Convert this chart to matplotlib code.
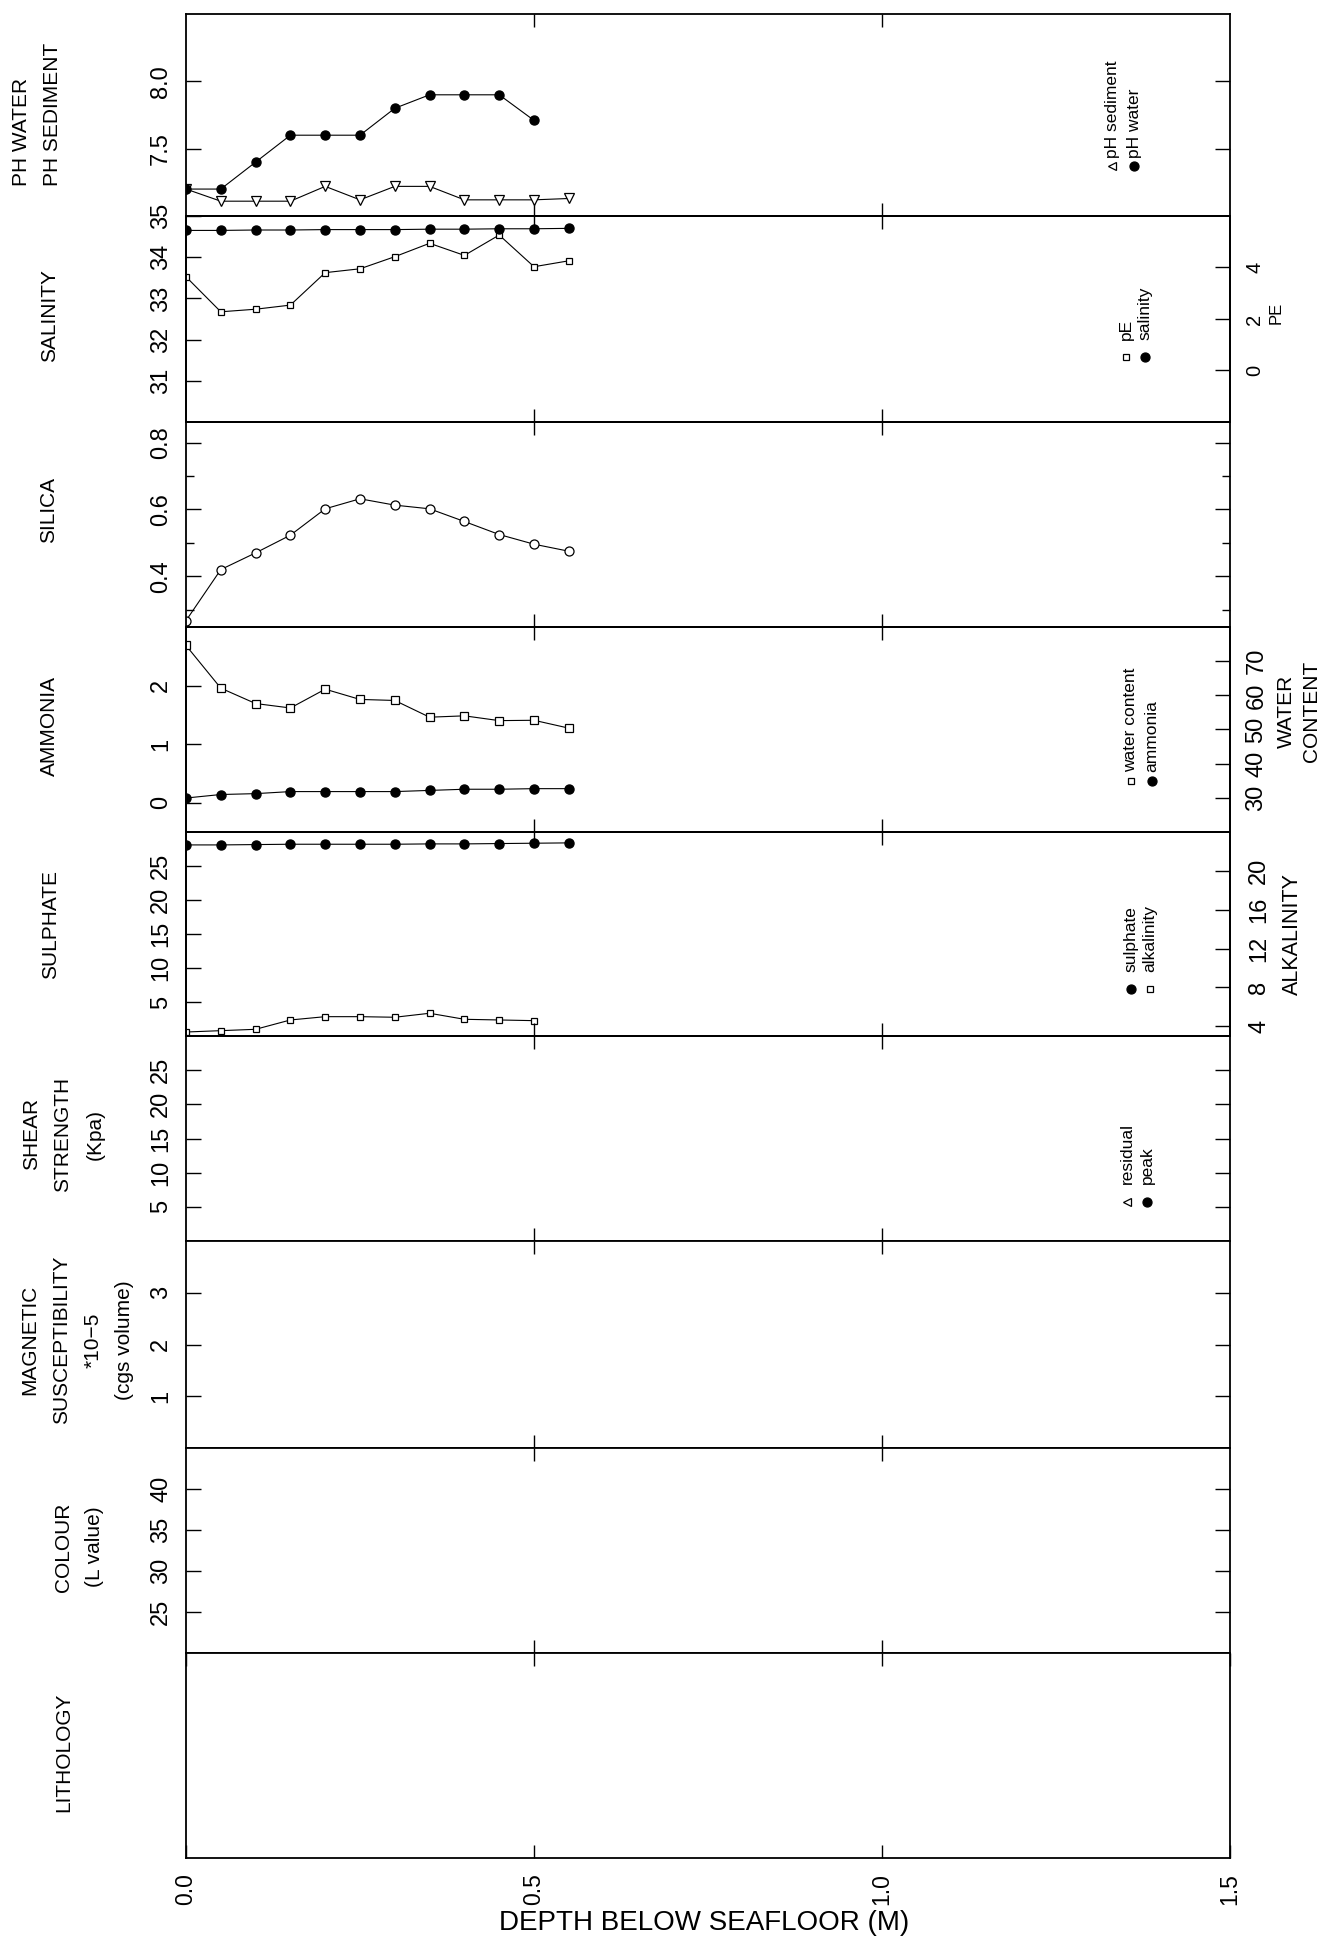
import matplotlib
matplotlib.use('Agg')
import matplotlib.pyplot as plt
import matplotlib.transforms as mtransforms

plt.rcParams['font.family'] = ['Liberation Sans', 'DejaVu Sans']

# ---------------- data ----------------
depth = [0.0, 0.05, 0.10, 0.15, 0.20, 0.25, 0.30, 0.35, 0.40, 0.45, 0.50, 0.55]

ph_water = [7.20, 7.20, 7.40, 7.60, 7.60, 7.60, 7.80, 7.90, 7.90, 7.90, 7.71]
ph_sediment = [7.20, 7.11, 7.11, 7.11, 7.22, 7.12, 7.22, 7.22, 7.12, 7.12, 7.12, 7.13]

salinity = [34.65, 34.65, 34.66, 34.66, 34.67, 34.67, 34.67, 34.68, 34.68, 34.69, 34.69, 34.70]
pe = [3.64, 2.28, 2.38, 2.54, 3.80, 3.95, 4.42, 4.94, 4.47, 5.26, 4.03, 4.26]

silica = [0.267, 0.420, 0.470, 0.523, 0.602, 0.632, 0.613, 0.602, 0.564, 0.525, 0.496, 0.475]

ammonia = [0.08, 0.14, 0.155, 0.19, 0.19, 0.19, 0.19, 0.21, 0.23, 0.23, 0.24, 0.24]
water_content = [74.6, 62.1, 57.6, 56.3, 61.8, 58.8, 58.5, 53.6, 54.0, 52.6, 52.7, 50.4]

sulphate = [28.10, 28.10, 28.15, 28.20, 28.20, 28.20, 28.20, 28.25, 28.25, 28.30, 28.35, 28.40]
alkalinity = [3.41, 3.55, 3.69, 4.65, 4.99, 4.99, 4.93, 5.34, 4.72, 4.65, 4.58]

depth_ticks = [0.0, 0.5, 1.0, 1.5]
depth_ticklabels = ["0.0", "0.5", "1.0", "1.5"]

titles = ["PH WATER\nPH SEDIMENT", "SALINITY", "SILICA", "AMMONIA", "SULPHATE",
          "SHEAR\nSTRENGTH\n(Kpa)", "MAGNETIC\nSUSCEPTIBILITY\n*10\u22125\n(cgs volume)",
          "COLOUR\n(L value)", "LITHOLOGY"]

# ---------------- layout (pixels) ----------------
W, H = 1341, 1943
X0, X1 = 186, 1230
bounds = [14, 216, 422, 627, 832, 1036, 1241, 1448, 1653, 1858]

fig = plt.figure(figsize=(W / 100, H / 100), dpi=100)

TICK_FS = 17
SPINE_W = 1.3


def make_ax(i):
    top, bot = bounds[i], bounds[i + 1]
    ax = fig.add_axes([X0 / W, 1 - bot / H, (X1 - X0) / W, (bot - top) / H])
    ax.set_xlim(0, 1.5)
    for s in ax.spines.values():
        s.set_linewidth(SPINE_W)
    ax.set_xticks([0.5, 1.0])
    ax.tick_params(axis='x', which='both', direction='in', top=True, bottom=True,
                   length=9.5, width=1.0, labelbottom=False)
    ax.tick_params(axis='y', which='both', direction='in', left=True, right=True,
                   length=11, width=1.0, labelsize=TICK_FS, pad=10)
    ax.tick_params(axis='y', which='minor', length=6)
    return ax


def rot_labels(ax, side='left'):
    labels = ax.get_yticklabels()
    for lab in labels:
        lab.set_rotation(90)
        lab.set_va('center')
        lab.set_ha('right' if side == 'left' else 'left')


def twin(ax, ylim, ticks, fs, pad=11):
    t = ax.twinx()
    t.set_ylim(*ylim)
    t.set_yticks(ticks)
    t.set_yticklabels([str(v) for v in ticks])
    t.tick_params(axis='y', direction='in', right=True, length=11, width=1.0,
                  labelsize=fs, pad=pad)
    ax.tick_params(axis='y', right=False)
    for s in t.spines.values():
        s.set_linewidth(SPINE_W)
    for lab in t.get_yticklabels():
        lab.set_rotation(90)
        lab.set_va('center')
        lab.set_ha('left')
    return t


axes = [make_ax(i) for i in range(9)]

line_kw = dict(color='black', lw=0.8)
filled = dict(marker='o', ms=6.5, mfc='black', mec='black')

# --- pH panel ---
ax = axes[0]
ax.set_ylim(7.0, 8.5)
ax.set_yticks([7.5, 8.0])
ax.set_yticklabels(["7.5", "8.0"])
ax.plot(depth, ph_sediment, marker='v', ms=6.5, mfc='white', mec='black', mew=0.9,
        zorder=3, **line_kw)
ax.plot(depth[:len(ph_water)], ph_water, zorder=4, **filled, **line_kw)
rot_labels(ax)

# --- salinity / pE ---
ax = axes[1]
ax.set_ylim(30, 35)
ax.set_yticks([31, 32, 33, 34, 35])
ax.set_yticklabels(["31", "32", "33", "34", "35"])
rot_labels(ax)
t = twin(ax, (-2, 6), [0, 2, 4], 14.5)
t.plot(depth, pe, marker='s', ms=5, mfc='white', mec='black', mew=0.9, **line_kw)
ax.plot(depth, salinity, zorder=4, **filled, **line_kw)
ax.set_zorder(t.get_zorder() + 1)
ax.patch.set_visible(False)

# --- silica ---
ax = axes[2]
ax.set_ylim(0.248, 0.862)
ax.set_yticks([0.4, 0.6, 0.8])
ax.set_yticklabels(["0.4", "0.6", "0.8"])
ax.set_yticks([0.3, 0.5, 0.7], minor=True)
ax.plot(depth, silica, marker='o', ms=6.5, mfc='white', mec='black', mew=0.9, **line_kw)
rot_labels(ax)

# --- ammonia / water content ---
ax = axes[3]
ax.set_ylim(-0.5, 3.0)
ax.set_yticks([0, 1, 2])
ax.set_yticklabels(["0", "1", "2"])
rot_labels(ax)
t = twin(ax, (20, 80), [30, 40, 50, 60, 70], TICK_FS)
t.plot(depth, water_content, marker='s', ms=6, mfc='white', mec='black', mew=0.9, **line_kw)
ax.plot(depth, ammonia, zorder=4, **filled, **line_kw)
ax.set_zorder(t.get_zorder() + 1)
ax.patch.set_visible(False)

# --- sulphate / alkalinity ---
ax = axes[4]
ax.set_ylim(0, 30)
ax.set_yticks([5, 10, 15, 20, 25])
ax.set_yticklabels(["5", "10", "15", "20", "25"])
rot_labels(ax)
t = twin(ax, (3, 24), [4, 8, 12, 16, 20], TICK_FS, pad=13)
t.plot(depth[:len(alkalinity)], alkalinity, marker='s', ms=5, mfc='white', mec='black',
       mew=0.9, **line_kw)
ax.plot(depth, sulphate, zorder=4, **filled, **line_kw)
ax.set_zorder(t.get_zorder() + 1)
ax.patch.set_visible(False)

# --- shear strength ---
ax = axes[5]
ax.set_ylim(0, 30)
ax.set_yticks([5, 10, 15, 20, 25])
ax.set_yticklabels(["5", "10", "15", "20", "25"])
rot_labels(ax)

# --- magnetic susceptibility ---
ax = axes[6]
ax.set_ylim(0, 4)
ax.set_yticks([1, 2, 3])
ax.set_yticklabels(["1", "2", "3"])
rot_labels(ax)

# --- colour ---
ax = axes[7]
ax.set_ylim(20, 45)
ax.set_yticks([25, 30, 35, 40])
ax.set_yticklabels(["25", "30", "35", "40"])
rot_labels(ax)

# --- lithology ---
ax = axes[8]
ax.set_yticks([])
ax.set_xticks(depth_ticks)
ax.set_xticklabels(depth_ticklabels)
ax.tick_params(axis='x', labelbottom=True, labelsize=16.5, pad=11)
for lab in ax.get_xticklabels():
    lab.set_rotation(90)
    lab.set_va('top')
    lab.set_ha('center')

# ---------------- in-panel legends ----------------
LEG_FS = 12.5


def legend_entry(ax, x, y_marker, y_text, text, marker, filled_marker, ms):
    tr = mtransforms.blended_transform_factory(ax.transData, ax.transAxes)
    ax.plot([x], [y_marker], marker=marker, ms=ms, transform=tr, clip_on=False,
            mfc='black' if filled_marker else 'white', mec='black', mew=0.9, ls='none',
            zorder=6)
    ax.text(x, y_text, text, transform=tr, rotation=90, ha='center', va='bottom',
            fontsize=LEG_FS)


def frac(i, ypix):
    top, bot = bounds[i], bounds[i + 1]
    return (bot - ypix) / (bot - top)


def dx(xpix):
    return (xpix - X0) / (X1 - X0) * 1.5


legend_entry(axes[0], dx(1112), frac(0, 166), frac(0, 158), "pH sediment", '<', False, 6)
legend_entry(axes[0], dx(1134), frac(0, 166), frac(0, 158), "pH water", 'o', True, 6.5)

legend_entry(axes[1], dx(1126), frac(1, 357), frac(1, 340), "pE", 's', False, 5)
legend_entry(axes[1], dx(1145), frac(1, 357), frac(1, 340), "salinity", 'o', True, 6.5)

legend_entry(axes[3], dx(1131), frac(3, 781), frac(3, 772), "water content", 's', False, 5)
legend_entry(axes[3], dx(1152), frac(3, 781), frac(3, 772), "ammonia", 'o', True, 6.5)

legend_entry(axes[4], dx(1131), frac(4, 989), frac(4, 972), "sulphate", 'o', True, 6.5)
legend_entry(axes[4], dx(1150), frac(4, 989), frac(4, 972), "alkalinity", 's', False, 5)

legend_entry(axes[5], dx(1127), frac(5, 1202), frac(5, 1184), "residual", '<', False, 6)
legend_entry(axes[5], dx(1147), frac(5, 1202), frac(5, 1184), "peak", 'o', True, 6.5)

# ---------------- titles (left) ----------------
TITLE_FS = 15
title_pos = [(37, 114, 'left'), (50, 316, 'center'), (49, 510, 'center'),
             (49, 726, 'center'), (51, 924, 'center'), (63, 1134, 'center'),
             (77, 1340, 'center'), (79, 1547, 'center'), (64, 1752, 'center')]
for txt, (px, py, ma) in zip(titles, title_pos):
    fig.text(px / W, 1 - py / H, txt, rotation=90, ha='center', va='center',
             multialignment=ma, fontsize=TITLE_FS, linespacing=1.85)

# ---------------- secondary axis labels ----------------
fig.text(1276 / W, 1 - 313 / H, "PE", rotation=90, ha='center', va='center', fontsize=12)
fig.text(1299 / W, 1 - 711 / H, "WATER\nCONTENT", rotation=90, ha='center', va='center',
         fontsize=15, linespacing=1.45)
fig.text(1292 / W, 1 - 934 / H, "ALKALINITY", rotation=90, ha='center', va='center',
         fontsize=15.5)

# ---------------- depth label ----------------
fig.text(704 / W, 1 - 1923 / H, "DEPTH BELOW SEAFLOOR (M)", ha='center', va='center',
         fontsize=20)

fig.savefig('out.png', dpi=100)
